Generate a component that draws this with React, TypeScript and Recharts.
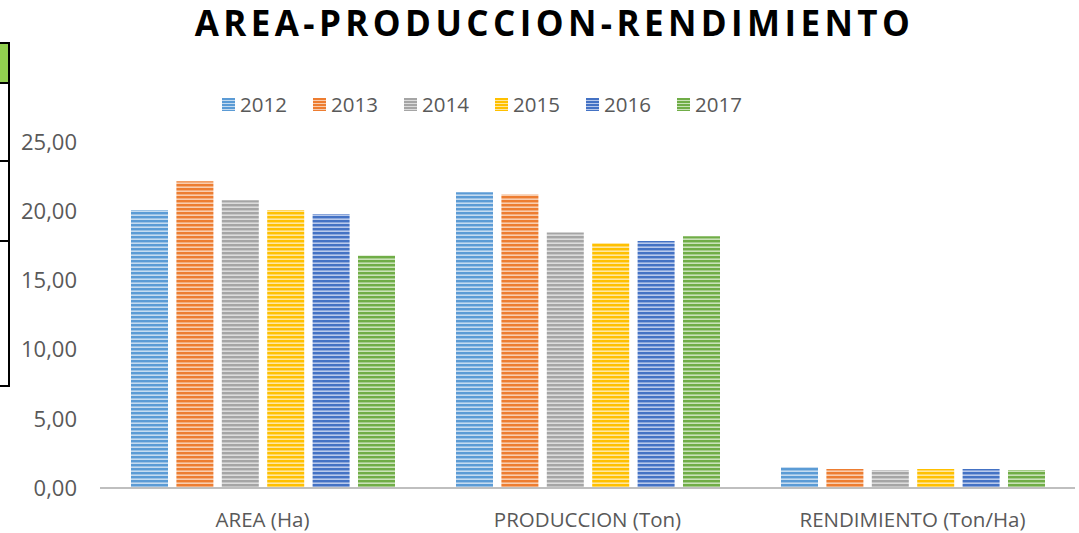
import React from 'react';
import { BarChart, Bar, XAxis, YAxis } from 'recharts';

const categories = ['AREA (Ha)', 'PRODUCCION (Ton)', 'RENDIMIENTO (Ton/Ha)'];
const years = ['2012', '2013', '2014', '2015', '2016', '2017'];
const v2012 = [20.08, 21.37, 1.52];
const v2013 = [22.16, 21.2, 1.37];
const v2014 = [20.79, 18.47, 1.3];
const v2015 = [20.08, 17.7, 1.37];
const v2016 = [19.8, 17.85, 1.37];
const v2017 = [16.8, 18.19, 1.3];
const yTicks = [0, 5, 10, 15, 20, 25];

const colors = ['#5B9BD5', '#ED7D31', '#A5A5A5', '#FFC000', '#4472C4', '#70AD47'];
const lights = ['#C5DBF0', '#F9CDAE', '#DCDCDC', '#FFE7A0', '#B8C9EB', '#C9E2B8'];

const seriesValues = [v2012, v2013, v2014, v2015, v2016, v2017];
const data = categories.map((c, i) => {
  const row: any = { name: c };
  years.forEach((y, k) => (row[y] = seriesValues[k][i]));
  return row;
});

const fmt = (v: number) => v.toFixed(2).replace('.', ',');
const font = '"Open Sans", sans-serif';

function Stripes() {
  return (
    <defs>
      {colors.map((c, i) => (
        <pattern key={i} id={`stripe${i}`} width="4" height="4" patternUnits="userSpaceOnUse">
          <rect width="4" height="4" fill={lights[i]} />
          <rect y="0" width="4" height="2.4" fill={c} />
        </pattern>
      ))}
    </defs>
  );
}

function LegendRow() {
  return (
    <div style={{ position: 'absolute', top: 90, left: 222, display: 'flex', fontFamily: font, fontSize: 20.5, color: '#595959' }}>
      {years.map((y, i) => (
        <div key={y} style={{ display: 'flex', alignItems: 'center', width: 91 }}>
          <svg width="13" height="13" style={{ marginRight: 5 }}>
            <defs>
              <pattern id={`lg${i}`} width="3" height="3" patternUnits="userSpaceOnUse">
                <rect width="3" height="3" fill={lights[i]} />
                <rect width="3" height="2" fill={colors[i]} />
              </pattern>
            </defs>
            <rect width="13" height="13" fill={`url(#lg${i})`} />
          </svg>
          <span>{y}</span>
        </div>
      ))}
    </div>
  );
}

export default function App() {
  return (
    <div style={{ position: 'fixed', top: 0, left: 0, width: 1079, height: 533, background: '#fff', overflow: 'hidden' }}>
      {/* table fragment at the left edge */}
      <div style={{ position: 'absolute', left: -4, top: 42, width: 10, height: 38, background: '#92D050', border: '2px solid #000' }} />
      <div style={{ position: 'absolute', left: -4, top: 82, width: 10, height: 78, border: '2px solid #000', borderTop: 'none' }} />
      <div style={{ position: 'absolute', left: -4, top: 162, width: 10, height: 78, border: '2px solid #000', borderTop: 'none' }} />
      <div style={{ position: 'absolute', left: -4, top: 242, width: 10, height: 143, border: '2px solid #000', borderTop: 'none' }} />
      <div style={{ position: 'absolute', top: 1, left: 0, width: 1079, textAlign: 'center', paddingLeft: 30, boxSizing: 'border-box', fontFamily: font, fontWeight: 700, fontSize: 35, lineHeight: '44px', letterSpacing: 4.4, color: '#000' }}>
        AREA-PRODUCCION-RENDIMIENTO
      </div>
      <LegendRow />
      <BarChart width={1079} height={533} data={data} margin={{ top: 142, right: 4, bottom: 0, left: 0 }} barGap={8.4} barSize={37}>
        <Stripes />
        <XAxis dataKey="name" height={45} tickLine={false} axisLine={{ stroke: '#BFBFBF', strokeWidth: 2 }} tickMargin={18} tick={{ fill: '#595959', fontSize: 20.5, fontFamily: font }} />
        <YAxis width={100} domain={[0, 25]} ticks={yTicks} tickFormatter={fmt} axisLine={false} tickLine={false} tickMargin={17} tick={{ fill: '#595959', fontSize: 22, fontFamily: font }} />
        {years.map((y, i) => (
          <Bar key={y} dataKey={y} fill={`url(#stripe${i})`} isAnimationActive={false} />
        ))}
      </BarChart>
    </div>
  );
}
